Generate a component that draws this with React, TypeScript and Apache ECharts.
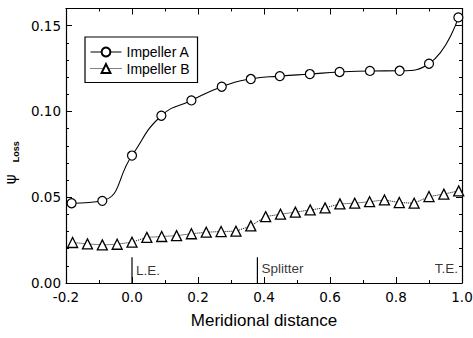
import React, { useEffect, useRef } from 'react';
import * as echarts from 'echarts';

const xMin = -0.2;
const xMax = 1.0;
const xStep = 0.2;
const yMin = 0;
const yMax = 0.16;
const yStep = 0.05;
const yMinorStep = 0.01;

const seriesNames = ['Impeller A', 'Impeller B'];

const impellerAX = [-0.183, -0.09, 0.0, 0.089, 0.18, 0.272, 0.36, 0.448, 0.539, 0.629, 0.721, 0.811, 0.9, 0.989];
const impellerAY = [0.0465, 0.0479, 0.0743, 0.0975, 0.1064, 0.1144, 0.1189, 0.1206, 0.1218, 0.123, 0.1236, 0.1237, 0.1278, 0.1548];

const impellerBX = [-0.18, -0.135, -0.09, -0.045, 0.0, 0.045, 0.09, 0.135, 0.18, 0.225, 0.27, 0.315, 0.36, 0.405, 0.45, 0.495, 0.54, 0.585, 0.63, 0.675, 0.72, 0.765, 0.81, 0.855, 0.9, 0.945, 0.99];
const impellerBY = [0.0236, 0.0228, 0.0222, 0.0226, 0.0238, 0.0266, 0.0271, 0.0276, 0.0287, 0.0296, 0.03, 0.0302, 0.0333, 0.0387, 0.0401, 0.0413, 0.0426, 0.0438, 0.0461, 0.0465, 0.0474, 0.0484, 0.0469, 0.0465, 0.0504, 0.0518, 0.0537];

const markerLineX = [0.0, 0.38];
const markerLineTop = 0.015;
const markerLabels = ['L.E.', 'Splitter', 'T.E.'];
const markerLabelX = [0.0, 0.38, 1.0];
const markerLabelY = [0.0073, 0.0082, 0.0082];

export default function App() {
  const ref = useRef<HTMLDivElement>(null);
  useEffect(() => {
    const chart = echarts.init(ref.current!, null, { renderer: 'svg' });
    const tickFont = 'DejaVu Sans';
    const textFont = 'Liberation Sans';
    const black = '#000';

    const xBase = {
      type: 'value',
      min: xMin,
      max: xMax,
      interval: xStep,
      splitLine: { show: false },
      axisLine: { show: true, onZero: false, lineStyle: { color: black, width: 1.2 } },
      axisTick: { show: true, inside: true, length: 6, lineStyle: { color: black, width: 1 } },
      minorTick: { show: true, splitNumber: 2, length: 3, lineStyle: { color: black, width: 1 } },
    };
    const yMajor = {
      type: 'value',
      min: yMin,
      max: yMax,
      interval: yStep,
      splitLine: { show: false },
      axisLine: { show: true, onZero: false, lineStyle: { color: black, width: 1.2 } },
      axisTick: { show: true, inside: true, length: 6, lineStyle: { color: black, width: 1 } },
    };
    const yMinor = {
      type: 'value',
      min: yMin,
      max: yMax,
      interval: yMinorStep,
      splitLine: { show: false },
      axisLine: { show: false, onZero: false },
      axisLabel: { show: false },
      axisTick: { show: true, inside: true, length: 3, lineStyle: { color: black, width: 1 } },
    };

    const series: any[] = [
      {
        name: seriesNames[0],
        type: 'line',
        data: impellerAX.map((x, i) => [x, impellerAY[i]]),
        smooth: true,
        symbol: 'circle',
        symbolSize: 9,
        itemStyle: { color: '#fff', borderColor: black, borderWidth: 1.2 },
        lineStyle: { color: black, width: 1.1 },
        z: 3,
      },
      {
        name: seriesNames[1],
        type: 'line',
        data: impellerBX.map((x, i) => [x, impellerBY[i]]),
        symbol: 'triangle',
        symbolSize: 10,
        itemStyle: { color: '#fff', borderColor: black, borderWidth: 1.3 },
        lineStyle: { color: black, width: 1, type: 'dotted' },
        z: 3,
      },
      ...markerLineX.map((x) => ({
        type: 'line',
        data: [[x, 0], [x, markerLineTop]],
        symbol: 'none',
        silent: true,
        lineStyle: { color: black, width: 1.2 },
        z: 2,
      })),
      {
        type: 'scatter',
        symbolSize: 0,
        silent: true,
        data: markerLabelX.map((x, i) => ({
          value: [x, markerLabelY[i]],
          name: markerLabels[i],
          label: { position: i === 2 ? 'left' : 'right' },
        })),
        label: {
          show: true,
          formatter: '{b}',
          distance: 4,
          fontFamily: textFont,
          fontSize: 13.5,
          color: black,
        },
      },
    ];

    chart.setOption({
      animation: false,
      backgroundColor: '#fff',
      grid: { left: 66, right: 11, top: 8.5, bottom: 55, containLabel: false, outerBoundsMode: 'none' },
      legend: {
        data: seriesNames,
        orient: 'vertical',
        left: 85,
        top: 37,
        itemWidth: 31,
        itemHeight: 11,
        itemGap: 2.5,
        padding: [8, 8, 7, 5],
        borderColor: black,
        borderWidth: 1.2,
        lineStyle: { width: 1 },
        textStyle: { fontFamily: textFont, fontSize: 14, color: black, lineHeight: 11 },
      },
      xAxis: [
        {
          ...xBase,
          position: 'bottom',
          axisLabel: {
            show: true,
            margin: 7,
            fontFamily: tickFont,
            fontSize: 13.5,
            color: black,
            formatter: (v: number) => v.toFixed(1),
          },
          name: 'Meridional distance',
          nameLocation: 'middle',
          nameGap: 29,
          nameTextStyle: { fontFamily: textFont, fontSize: 17, color: black },
        },
        { ...xBase, position: 'top', axisLabel: { show: false } },
      ],
      yAxis: [
        {
          ...yMajor,
          position: 'left',
          axisLabel: {
            show: true,
            margin: 5,
            fontFamily: tickFont,
            fontSize: 13.5,
            color: black,
            showMaxLabel: false,
            formatter: (v: number) => v.toFixed(2),
          },
          name: '{a|ψ}{b|Loss}',
          nameLocation: 'middle',
          nameRotate: 90,
          nameGap: 46,
          nameTextStyle: {
            color: black,
            padding: [0, 34, 0, 0],
            rich: {
              a: { fontFamily: 'DejaVu Sans', fontSize: 15, lineHeight: 18, verticalAlign: 'middle', padding: [0, 12, 0, 0], color: black },
              b: { fontFamily: textFont, fontWeight: 'bold', fontSize: 9, lineHeight: 9, verticalAlign: 'bottom', color: black },
            },
          },
        },
        { ...yMinor, position: 'left' },
        { ...yMajor, position: 'right', axisLabel: { show: false } },
        { ...yMinor, position: 'right' },
      ],
      series,
    });
    return () => chart.dispose();
  }, []);
  return <div ref={ref} style={{ position: 'absolute', left: 0, top: 0, width: 473, height: 338 }} />;
}
